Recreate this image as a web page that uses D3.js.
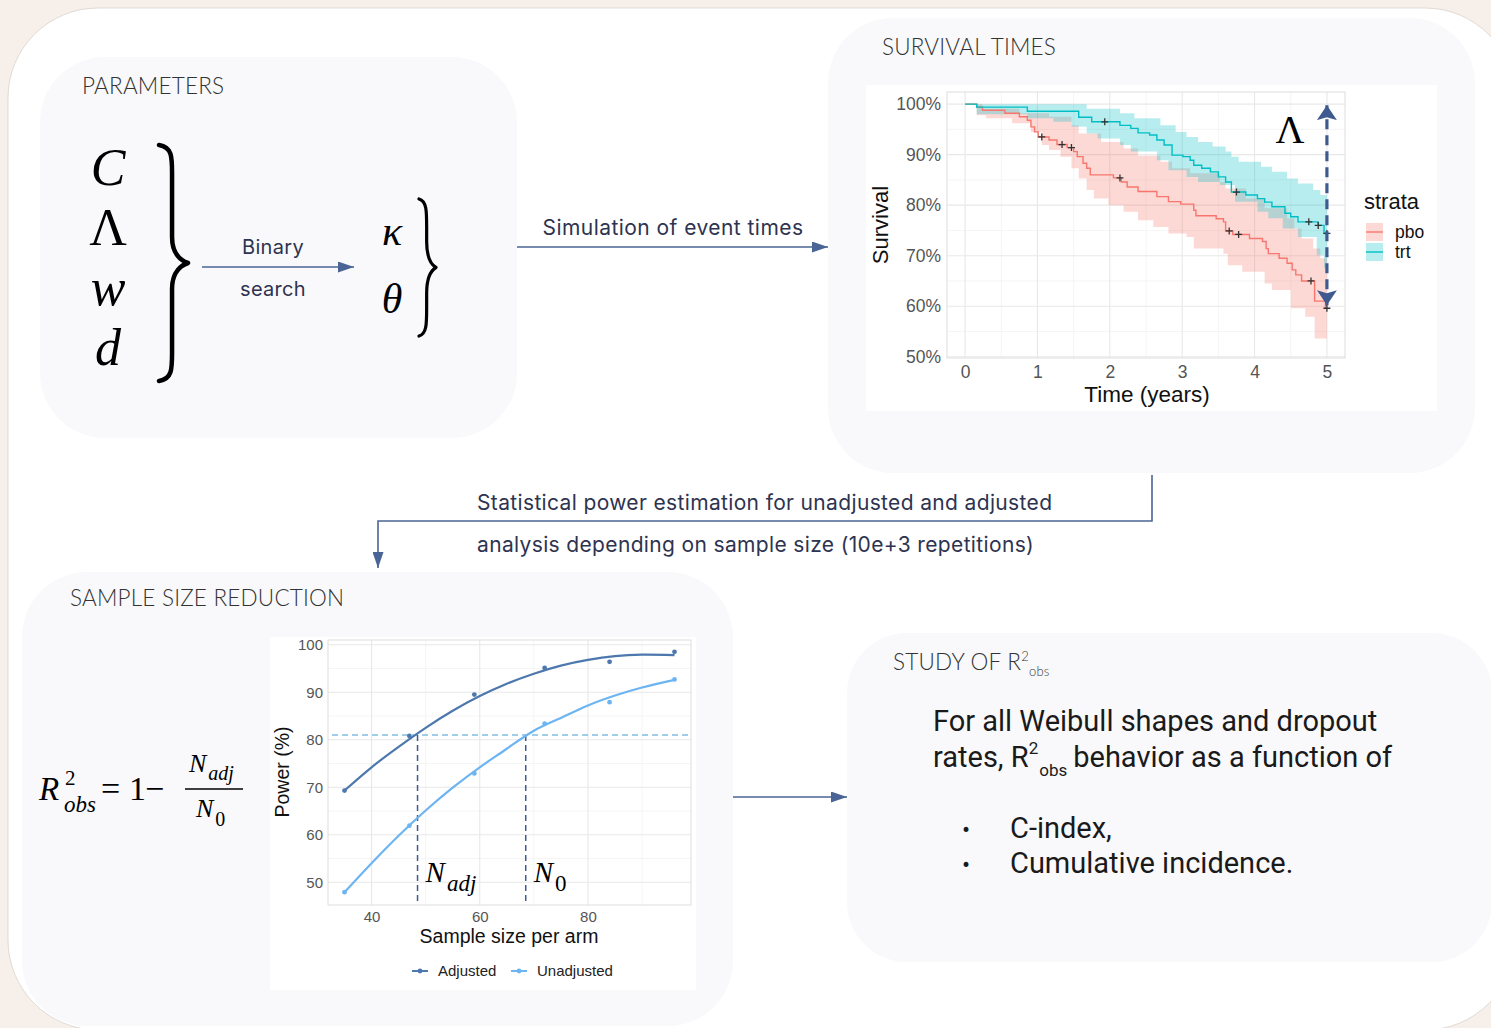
<!DOCTYPE html>
<html>
<head>
<meta charset="utf-8">
<script src="https://cdn.jsdelivr.net/npm/d3@7"></script>
<style>
  html, body { margin: 0; padding: 0; background: #f7f0ea; }
  svg { display: block; }
</style>
</head>
<body>
<svg id="fig" width="1491" height="1028"></svg>
<script>
// ---------------- Kaplan–Meier survival data (years, %) ----------------
const strata = ["pbo", "trt"];
const survTicks = [50, 60, 70, 80, 90, 100];
const timeTicks = [0, 1, 2, 3, 4, 5];

const pboTime = [0, 0.16, 0.24, 0.55, 0.75, 0.86, 0.91, 0.96, 1.01, 1.16, 1.27, 1.41, 1.50, 1.55, 1.63, 1.68, 1.73, 2.05, 2.16, 2.24, 2.39, 2.65, 2.81, 2.98, 3.16, 3.19, 3.47, 3.57, 3.60, 3.70, 3.93, 4.11, 4.16, 4.19, 4.34, 4.45, 4.52, 4.57, 4.65, 4.83, 4.98];
const pboSurv = [100, 99.4, 98.8, 98.2, 97.5, 96.8, 95.5, 94.5, 93.5, 92.9, 92.0, 91.4, 90.6, 89.6, 88.3, 87.3, 86.0, 85.4, 84.6, 83.6, 82.7, 81.7, 80.7, 80.2, 79.0, 77.9, 77.3, 76.7, 74.9, 74.2, 73.4, 72.8, 71.4, 70.4, 69.5, 68.5, 67.2, 66.2, 65.0, 61.0, 59.6];
const pboCensorTime = [1.06, 1.34, 1.47, 2.14, 3.65, 3.78, 4.78, 5.0];

const trtTime = [0, 0.16, 0.86, 1.57, 1.75, 2.14, 2.29, 2.39, 2.55, 2.65, 2.75, 2.86, 3.01, 3.11, 3.16, 3.27, 3.39, 3.50, 3.60, 3.68, 3.88, 4.04, 4.14, 4.24, 4.42, 4.50, 4.60, 4.88, 4.96];
const trtSurv = [100, 99.4, 98.6, 97.4, 96.5, 95.8, 95.2, 94.3, 93.9, 92.9, 91.9, 89.9, 89.6, 88.9, 87.9, 87.3, 86.6, 85.6, 84.6, 82.6, 82.0, 81.3, 80.6, 79.7, 78.4, 77.7, 76.7, 76.0, 74.4];
const trtCensorTime = [1.93, 3.75, 4.75, 4.88, 5.0];

// 95% confidence bands, [time, survival %]
const pboUpper = [[0,100],[0.24,99.1],[0.75,98.2],[1.16,97.5],[1.47,95.8],[1.57,94.2],[1.88,92.5],[2.19,91.2],[2.39,89.8],[2.70,88.6],[2.86,87.3],[3.11,86.3],[3.52,84.6],[3.60,83.3],[3.88,81.3],[4.14,79.4],[4.45,77.4],[4.55,75.4],[4.65,73.4],[4.81,71.4],[4.91,69.5]];
const pboLower = [[0,100],[0.16,97.8],[0.29,97.2],[0.65,96.2],[0.91,94.5],[1.06,91.9],[1.16,90.9],[1.32,89.6],[1.47,87.3],[1.57,85.3],[1.68,83.0],[1.78,81.3],[1.98,80.0],[2.19,78.7],[2.39,77.0],[2.60,75.7],[2.81,74.4],[3.06,73.7],[3.16,71.4],[3.57,70.4],[3.63,68.1],[3.83,66.8],[4.14,64.5],[4.24,63.2],[4.50,59.6],[4.70,57.9],[4.83,53.6]];
const trtUpper = [[0,100],[1.68,99.1],[2.14,98.2],[2.34,97.2],[2.70,95.8],[2.91,94.5],[3.06,93.5],[3.22,92.5],[3.42,91.6],[3.60,90.6],[3.68,89.6],[3.78,88.6],[4.09,87.6],[4.24,86.6],[4.45,85.3],[4.60,84.3],[4.81,83.0],[4.91,82.0]];
const trtLower = [[0,100],[0.16,98.0],[0.86,97.2],[1.22,96.5],[1.47,95.5],[1.68,94.2],[1.83,93.2],[2.14,91.9],[2.29,90.6],[2.65,88.9],[2.81,86.9],[3.06,85.6],[3.22,84.6],[3.52,84.0],[3.73,80.7],[4.04,78.7],[4.19,77.4],[4.39,75.4],[4.60,73.7],[4.86,70.1],[4.96,67.5]];

const lambdaTime = 5;          // time where the between-arm gap is marked
const lambdaRange = [99.8, 60.2];

// ---------------- Power vs sample size ----------------
const sampleSize = [35, 47, 59, 72, 84, 96];
const powerAdjusted = [69.3, 80.8, 89.5, 95.1, 96.4, 98.5];
const powerUnadjusted = [47.9, 61.9, 72.9, 83.4, 87.9, 92.7];
const fitSize = [35, 40, 45, 50, 55, 60, 65, 70, 75, 80, 85, 90, 96];
const fitAdjusted = [69.3, 74.2, 78.5, 82.5, 86.1, 89.2, 91.8, 93.9, 95.6, 96.8, 97.6, 97.9, 97.8];
const fitUnadjusted = [47.9, 54.0, 59.8, 65.1, 69.9, 74.2, 78.1, 81.9, 84.6, 87.2, 89.3, 91.0, 92.6];
const powerSeries = ["Adjusted", "Unadjusted"];
const powerTicksY = [50, 60, 70, 80, 90, 100];
const powerTicksX = [40, 60, 80];
const targetPower = 81;
const nAdjusted = 48.5;
const nUnadjusted = 68.5;

// ---------------- Text ----------------
const paramSymbols = ["C", "Λ", "w", "d"];
const fittedSymbols = ["κ", "θ"];
const powerCaption = ["Statistical power estimation for unadjusted and adjusted",
                      "analysis depending on sample size (10e+3 repetitions)"];
const studyBullets = ["C-index,", "Cumulative incidence."];

// ======================================================================
const svg = d3.select("#fig");
const ARROW = "#4a6595";
const TITLE_FONT = "Lato, 'Open Sans', sans-serif";
const LABEL_FONT = "Inter, 'Open Sans', sans-serif";
const MATH_FONT = "'Liberation Serif', 'DejaVu Serif', serif";
const PLOT_FONT = "'Liberation Sans', Arial, sans-serif";
const BODY_FONT = "Roboto, 'Open Sans', sans-serif";

const defs = svg.append("defs");
function arrowMarker(id, color, w, h, notch) {
  defs.append("marker").attr("id", id)
    .attr("viewBox", `0 0 ${w} ${h}`).attr("refX", w).attr("refY", h / 2)
    .attr("markerWidth", w).attr("markerHeight", h).attr("markerUnits", "userSpaceOnUse")
    .attr("orient", "auto-start-reverse")
    .append("path").attr("d", `M0,0L${w},${h/2}L0,${h}L${notch},${h/2}Z`).attr("fill", color);
}
arrowMarker("arr", ARROW, 16, 11, 0);
arrowMarker("arrBig", "#3e5a8f", 15, 20, 3);

// Backdrop card
svg.append("rect").attr("x", 8).attr("y", 8).attr("width", 1507).attr("height", 1022)
  .attr("rx", 90).attr("fill", "#ffffff").attr("stroke", "#d9d2cb").attr("stroke-width", 0.8);

// Panels
const panels = [
  { x: 40, y: 57, w: 477, h: 381, r: 65 },
  { x: 828, y: 18, w: 647, h: 455, r: 65 },
  { x: 22, y: 572, w: 711, h: 454, r: 65 },
  { x: 847, y: 633, w: 645, h: 329, r: 60 }
];
svg.selectAll("rect.panel").data(panels).enter().append("rect").attr("class", "panel")
  .attr("x", d => d.x).attr("y", d => d.y).attr("width", d => d.w).attr("height", d => d.h)
  .attr("rx", d => d.r).attr("fill", "#f9f9fb");

function title(x, y, txt) {
  return svg.append("text").attr("x", x).attr("y", y).attr("font-family", TITLE_FONT)
    .attr("font-weight", 300).attr("font-size", 22.5).attr("letter-spacing", 0.2)
    .attr("fill", "#333").text(txt);
}
title(82, 94, "PARAMETERS");
title(882, 55, "SURVIVAL TIMES");
title(70, 606, "SAMPLE SIZE REDUCTION");
const st = title(893, 670, "STUDY OF R");
st.append("tspan").attr("font-size", 13).attr("dy", -9).text("2");
st.append("tspan").attr("font-size", 13).attr("dy", 15).text("obs");

// ---------------- Parameters block ----------------
const paramY = d3.scalePoint().domain(paramSymbols).range([185, 365]);
svg.selectAll("text.param").data(paramSymbols).enter().append("text").attr("class", "param")
  .attr("x", 108).attr("y", d => paramY(d)).attr("text-anchor", "middle")
  .attr("font-family", MATH_FONT).attr("font-size", 52)
  .attr("font-style", d => d === "Λ" ? "normal" : "italic").text(d => d);

function brace(x, y0, y1, w, sw) {
  const ym = (y0 + y1) / 2, c = w * 0.45;
  const p = d3.path();
  p.moveTo(x, y0);
  p.bezierCurveTo(x + c, y0 + 2, x + c, y0 + 12, x + c, y0 + 28);
  p.lineTo(x + c, ym - 26);
  p.bezierCurveTo(x + c, ym - 8, x + w * 0.8, ym - 2, x + w, ym);
  p.bezierCurveTo(x + w * 0.8, ym + 2, x + c, ym + 8, x + c, ym + 26);
  p.lineTo(x + c, y1 - 28);
  p.bezierCurveTo(x + c, y1 - 12, x + c, y1 - 2, x, y1);
  svg.append("path").attr("d", p.toString()).attr("fill", "none").attr("stroke", "#000")
    .attr("stroke-width", sw).attr("stroke-linecap", "round").attr("stroke-linejoin", "round");
}
brace(159, 145, 381, 29, 4.5);
brace(419, 199, 336, 17, 3.2);

svg.append("line").attr("x1", 202).attr("x2", 354).attr("y1", 267).attr("y2", 267)
  .attr("stroke", ARROW).attr("stroke-width", 1.6).attr("marker-end", "url(#arr)");
svg.append("text").attr("x", 273).attr("y", 254).attr("text-anchor", "middle")
  .attr("font-family", LABEL_FONT).attr("font-size", 20).attr("letter-spacing", 0.3)
  .attr("fill", "#2e3350").text("Binary");
svg.append("text").attr("x", 273).attr("y", 296).attr("text-anchor", "middle")
  .attr("font-family", LABEL_FONT).attr("font-size", 20).attr("letter-spacing", 0.3)
  .attr("fill", "#2e3350").text("search");

const fitY = d3.scalePoint().domain(fittedSymbols).range([245, 313]);
svg.selectAll("text.fitted").data(fittedSymbols).enter().append("text").attr("class", "fitted")
  .attr("x", 392).attr("y", d => fitY(d)).attr("text-anchor", "middle")
  .attr("font-family", MATH_FONT).attr("font-size", 42).attr("font-style", "italic").text(d => d);

// Simulation arrow
svg.append("line").attr("x1", 517).attr("x2", 828).attr("y1", 247).attr("y2", 247)
  .attr("stroke", ARROW).attr("stroke-width", 1.6).attr("marker-end", "url(#arr)");
svg.append("text").attr("x", 673).attr("y", 235).attr("text-anchor", "middle")
  .attr("font-family", LABEL_FONT).attr("font-size", 21).attr("letter-spacing", 0.45)
  .attr("fill", "#2e3350").text("Simulation of event times");

// ---------------- Survival chart ----------------
svg.append("rect").attr("x", 866).attr("y", 85).attr("width", 571).attr("height", 326).attr("fill", "#fff");
const kx = d3.scaleLinear().domain([-0.25, 5.25]).range([947, 1345]);
const ky = d3.scaleLinear().domain([49.75, 102.4]).range([358, 92]);
const km = svg.append("g");

const minorT = d3.range(0.5, 5, 1), minorS = d3.range(55, 100, 10);
km.selectAll("line.vminor").data(minorT).enter().append("line")
  .attr("x1", d => kx(d)).attr("x2", d => kx(d)).attr("y1", ky.range()[0]).attr("y2", ky.range()[1])
  .attr("stroke", "#f2f2f2").attr("stroke-width", 0.8);
km.selectAll("line.hminor").data(minorS).enter().append("line")
  .attr("y1", d => ky(d)).attr("y2", d => ky(d)).attr("x1", kx.range()[0]).attr("x2", kx.range()[1])
  .attr("stroke", "#f2f2f2").attr("stroke-width", 0.8);
km.selectAll("line.vmajor").data(timeTicks).enter().append("line")
  .attr("x1", d => kx(d)).attr("x2", d => kx(d)).attr("y1", ky.range()[0]).attr("y2", ky.range()[1])
  .attr("stroke", "#e8e8e8").attr("stroke-width", 1.1);
km.selectAll("line.hmajor").data(survTicks).enter().append("line")
  .attr("y1", d => ky(d)).attr("y2", d => ky(d)).attr("x1", kx.range()[0]).attr("x2", kx.range()[1])
  .attr("stroke", "#e8e8e8").attr("stroke-width", 1.1);

function stepAt(arr, t) {
  let v = arr[0][1];
  for (const [tt, s] of arr) { if (tt <= t) v = s; }
  return v;
}
function bandRows(upper, lower) {
  const ts = Array.from(new Set(upper.map(d => d[0]).concat(lower.map(d => d[0])).concat([5]))).sort((a, b) => a - b);
  return ts.map(t => ({ t, lo: stepAt(lower, t), hi: stepAt(upper, t) }));
}
const bandArea = d3.area().curve(d3.curveStepAfter)
  .x(d => kx(d.t)).y0(d => ky(d.lo)).y1(d => ky(d.hi));
const colors = { pbo: "#F8766D", trt: "#00BFC4" };
const kmData = {
  pbo: { time: pboTime, surv: pboSurv, cens: pboCensorTime, band: bandRows(pboUpper, pboLower) },
  trt: { time: trtTime, surv: trtSurv, cens: trtCensorTime, band: bandRows(trtUpper, trtLower) }
};
strata.forEach(k => {
  km.append("path").attr("d", bandArea(kmData[k].band)).attr("fill", colors[k]).attr("fill-opacity", 0.28);
});
const kmLine = d3.line().curve(d3.curveStepAfter).x(d => kx(d[0])).y(d => ky(d[1]));
strata.forEach(k => {
  const D = kmData[k];
  const pts = D.time.map((t, i) => [t, D.surv[i]]);
  pts.push([5, D.surv[D.surv.length - 1]]);
  km.append("path").attr("d", kmLine(pts)).attr("fill", "none").attr("stroke", colors[k]).attr("stroke-width", 1.4);
  const cens = D.cens.map(t => [t, stepAt(pts, t)]);
  km.selectAll(null).data(cens).enter().append("path")
    .attr("d", d => `M${kx(d[0]) - 3.5},${ky(d[1])}h7M${kx(d[0])},${ky(d[1]) - 3.5}v7`)
    .attr("stroke", "#333").attr("stroke-width", 1.3);
});
km.append("rect").attr("x", kx.range()[0]).attr("y", ky.range()[1])
  .attr("width", kx.range()[1] - kx.range()[0]).attr("height", ky.range()[0] - ky.range()[1])
  .attr("fill", "none").attr("stroke", "#dedede").attr("stroke-width", 1);

// axes
const kxAxis = km.append("g").attr("transform", `translate(0,${ky.range()[0]})`)
  .call(d3.axisBottom(kx).tickValues(timeTicks).tickFormat(d3.format("d")).tickSize(0).tickPadding(8));
const kyAxis = km.append("g").attr("transform", `translate(${kx.range()[0]},0)`)
  .call(d3.axisLeft(ky).tickValues(survTicks).tickSize(0).tickPadding(6).tickFormat(d => d + "%"));
[kxAxis, kyAxis].forEach(a => {
  a.select(".domain").remove();
  a.selectAll("text").attr("font-family", PLOT_FONT).attr("font-size", 17.5).attr("fill", "#555");
});
km.append("text").attr("x", 1147).attr("y", 402).attr("text-anchor", "middle")
  .attr("font-family", PLOT_FONT).attr("font-size", 22.5).attr("fill", "#111").text("Time (years)");
km.append("text").attr("transform", "translate(888,225) rotate(-90)").attr("text-anchor", "middle")
  .attr("font-family", PLOT_FONT).attr("font-size", 22).attr("fill", "#111").text("Survival");

// Λ marker: dashed double arrow between the two arms at end of follow-up
km.append("line").attr("x1", kx(lambdaTime)).attr("x2", kx(lambdaTime))
  .attr("y1", ky(lambdaRange[1])).attr("y2", ky(lambdaRange[0]))
  .attr("stroke", "#3e5a8f").attr("stroke-width", 3.2).attr("stroke-dasharray", "10,6")
  .attr("marker-start", "url(#arrBig)").attr("marker-end", "url(#arrBig)");
km.append("text").attr("x", 1290).attr("y", 143).attr("text-anchor", "middle")
  .attr("font-family", MATH_FONT).attr("font-size", 40).attr("fill", "#000").text("Λ");

// legend
const leg = km.append("g");
leg.append("text").attr("x", 1364).attr("y", 209).attr("font-family", PLOT_FONT)
  .attr("font-size", 22).attr("fill", "#111").text("strata");
const legY = d3.scalePoint().domain(strata).range([232, 252]);
strata.forEach(k => {
  leg.append("rect").attr("x", 1366).attr("y", legY(k) - 9).attr("width", 17).attr("height", 18)
    .attr("fill", colors[k]).attr("fill-opacity", 0.28);
  leg.append("line").attr("x1", 1366).attr("x2", 1383).attr("y1", legY(k)).attr("y2", legY(k))
    .attr("stroke", colors[k]).attr("stroke-width", 1.4);
  leg.append("text").attr("x", 1395).attr("y", legY(k) + 6).attr("font-family", PLOT_FONT)
    .attr("font-size", 17.5).attr("fill", "#111").text(k);
});

// ---------------- Connector to power estimation ----------------
svg.append("path").attr("d", "M1152,475V521H378V568").attr("fill", "none")
  .attr("stroke", ARROW).attr("stroke-width", 1.6).attr("marker-end", "url(#arr)");
svg.selectAll("text.cap").data(powerCaption).enter().append("text").attr("class", "cap")
  .attr("x", 477).attr("y", (d, i) => 510 + i * 42)
  .attr("font-family", LABEL_FONT).attr("font-size", 21).attr("letter-spacing", 0.35)
  .attr("fill", "#2e3350").text(d => d);

// ---------------- R² formula ----------------
const f = svg.append("g").attr("font-family", MATH_FONT).attr("fill", "#000");
f.append("text").attr("x", 39).attr("y", 800).attr("font-size", 33).attr("font-style", "italic").text("R");
f.append("text").attr("x", 65).attr("y", 785).attr("font-size", 21).text("2");
f.append("text").attr("x", 64).attr("y", 812).attr("font-size", 23).attr("font-style", "italic").text("obs");
f.append("text").attr("x", 101).attr("y", 800).attr("font-size", 34).text("=");
f.append("text").attr("x", 129).attr("y", 800).attr("font-size", 34).text("1");
f.append("text").attr("x", 145).attr("y", 800).attr("font-size", 34).text("−");
f.append("line").attr("x1", 185).attr("x2", 243).attr("y1", 789).attr("y2", 789).attr("stroke", "#000").attr("stroke-width", 1.6);
const num = f.append("text").attr("x", 189).attr("y", 772).attr("font-size", 26).attr("font-style", "italic").text("N");
num.append("tspan").attr("font-size", 20).attr("dx", 2).attr("dy", 8).text("adj");
const den = f.append("text").attr("x", 196).attr("y", 817).attr("font-size", 26).attr("font-style", "italic").text("N");
den.append("tspan").attr("font-size", 20).attr("font-style", "normal").attr("dx", 2).attr("dy", 9).text("0");

// ---------------- Power chart ----------------
svg.append("rect").attr("x", 270).attr("y", 637).attr("width", 426).attr("height", 353).attr("fill", "#fff");
const px = d3.scaleLinear().domain([31.95, 99.05]).range([328, 691]);
const py = d3.scaleLinear().domain([45.2, 101.0]).range([905, 640]);
const pw = svg.append("g");
const pMinorX = [30, 50, 70, 90], pMinorY = [45, 55, 65, 75, 85, 95];
pw.selectAll(null).data(pMinorX.filter(d => d > 31.95)).enter().append("line")
  .attr("x1", d => px(d)).attr("x2", d => px(d)).attr("y1", py.range()[0]).attr("y2", py.range()[1])
  .attr("stroke", "#f2f2f2").attr("stroke-width", 0.8);
pw.selectAll(null).data(pMinorY.filter(d => d > 45.2)).enter().append("line")
  .attr("y1", d => py(d)).attr("y2", d => py(d)).attr("x1", px.range()[0]).attr("x2", px.range()[1])
  .attr("stroke", "#f2f2f2").attr("stroke-width", 0.8);
pw.selectAll(null).data(powerTicksX).enter().append("line")
  .attr("x1", d => px(d)).attr("x2", d => px(d)).attr("y1", py.range()[0]).attr("y2", py.range()[1])
  .attr("stroke", "#e8e8e8").attr("stroke-width", 1.1);
pw.selectAll(null).data(powerTicksY).enter().append("line")
  .attr("y1", d => py(d)).attr("y2", d => py(d)).attr("x1", px.range()[0]).attr("x2", px.range()[1])
  .attr("stroke", "#e8e8e8").attr("stroke-width", 1.1);
pw.append("rect").attr("x", px.range()[0]).attr("y", py.range()[1])
  .attr("width", px.range()[1] - px.range()[0]).attr("height", py.range()[0] - py.range()[1])
  .attr("fill", "none").attr("stroke", "#dedede").attr("stroke-width", 1);

const pColors = { Adjusted: "#4d78ad", Unadjusted: "#6db5f2" };
const pFit = { Adjusted: fitAdjusted, Unadjusted: fitUnadjusted };
const pPts = { Adjusted: powerAdjusted, Unadjusted: powerUnadjusted };
const smooth = d3.line().curve(d3.curveNatural).x(d => px(d[0])).y(d => py(d[1]));

// target power and required sizes
pw.append("line").attr("x1", px(32.7)).attr("x2", px(98.5)).attr("y1", py(targetPower)).attr("y2", py(targetPower))
  .attr("stroke", "#7fbfe0").attr("stroke-width", 1.4).attr("stroke-dasharray", "6,4");
[nAdjusted, nUnadjusted].forEach(n => {
  pw.append("line").attr("x1", px(n)).attr("x2", px(n)).attr("y1", py(targetPower)).attr("y2", py.range()[0])
    .attr("stroke", "#3e5a8f").attr("stroke-width", 1.5).attr("stroke-dasharray", "6,4");
});

powerSeries.forEach(s => {
  pw.append("path").attr("d", smooth(fitSize.map((x, i) => [x, pFit[s][i]])))
    .attr("fill", "none").attr("stroke", pColors[s]).attr("stroke-width", 2.2);
  pw.selectAll(null).data(sampleSize.map((x, i) => [x, pPts[s][i]])).enter().append("circle")
    .attr("cx", d => px(d[0])).attr("cy", d => py(d[1])).attr("r", 2.4).attr("fill", pColors[s]);
});

const pxAxis = pw.append("g").attr("transform", `translate(0,${py.range()[0]})`)
  .call(d3.axisBottom(px).tickValues(powerTicksX).tickSize(0).tickPadding(6));
const pyAxis = pw.append("g").attr("transform", `translate(${px.range()[0]},0)`)
  .call(d3.axisLeft(py).tickValues(powerTicksY).tickSize(0).tickPadding(5));
[pxAxis, pyAxis].forEach(a => {
  a.select(".domain").remove();
  a.selectAll("text").attr("font-family", PLOT_FONT).attr("font-size", 15).attr("fill", "#555");
});
pw.append("text").attr("x", 509).attr("y", 943).attr("text-anchor", "middle")
  .attr("font-family", PLOT_FONT).attr("font-size", 19.5).attr("fill", "#111").text("Sample size per arm");
pw.append("text").attr("transform", "translate(289,772) rotate(-90)").attr("text-anchor", "middle")
  .attr("font-family", PLOT_FONT).attr("font-size", 19.5).attr("fill", "#111").text("Power (%)");

// N labels
const nl1 = pw.append("text").attr("x", px(nAdjusted) + 8).attr("y", 882).attr("font-family", MATH_FONT)
  .attr("font-size", 29).attr("font-style", "italic").text("N");
nl1.append("tspan").attr("font-size", 23).attr("dx", 2).attr("dy", 9).text("adj");
const nl2 = pw.append("text").attr("x", px(nUnadjusted) + 8).attr("y", 882).attr("font-family", MATH_FONT)
  .attr("font-size", 29).attr("font-style", "italic").text("N");
nl2.append("tspan").attr("font-size", 23).attr("font-style", "normal").attr("dx", 2).attr("dy", 9).text("0");

// legend
const pLegX = { Adjusted: 412, Unadjusted: 511 };
powerSeries.forEach(s => {
  pw.append("line").attr("x1", pLegX[s]).attr("x2", pLegX[s] + 16).attr("y1", 971).attr("y2", 971)
    .attr("stroke", pColors[s]).attr("stroke-width", 2);
  pw.append("circle").attr("cx", pLegX[s] + 8).attr("cy", 971).attr("r", 2.4).attr("fill", pColors[s]);
  pw.append("text").attr("x", pLegX[s] + 26).attr("y", 976).attr("font-family", PLOT_FONT)
    .attr("font-size", 15).attr("fill", "#222").text(s);
});

// arrow to the study panel
svg.append("line").attr("x1", 733).attr("x2", 847).attr("y1", 797).attr("y2", 797)
  .attr("stroke", ARROW).attr("stroke-width", 1.6).attr("marker-end", "url(#arr)");

// ---------------- Study of R²obs ----------------
svg.append("text").attr("x", 933).attr("y", 731).attr("font-family", BODY_FONT)
  .attr("font-size", 29).attr("fill", "#1a1a1a").attr("letter-spacing", 0)
  .text("For all Weibull shapes and dropout");
const l2 = svg.append("text").attr("x", 933).attr("y", 767).attr("font-family", BODY_FONT)
  .attr("font-size", 29).attr("fill", "#1a1a1a").attr("letter-spacing", 0);
l2.append("tspan").text("rates, R");
l2.append("tspan").attr("font-size", 17).attr("dy", -13).text("2");
l2.append("tspan").attr("font-size", 17).attr("dy", 22).attr("dx", 1).text("obs");
l2.append("tspan").attr("dy", -9).attr("dx", 6).text("behavior as a function of");
studyBullets.forEach((b, i) => {
  svg.append("text").attr("x", 962).attr("y", 838 + i * 35).attr("font-family", BODY_FONT)
    .attr("font-size", 24).attr("fill", "#1a1a1a").text("•");
  svg.append("text").attr("x", 1010).attr("y", 838 + i * 35).attr("font-family", BODY_FONT)
    .attr("font-size", 29).attr("fill", "#1a1a1a").attr("letter-spacing", 0).text(b);
});
</script>
</body>
</html>
